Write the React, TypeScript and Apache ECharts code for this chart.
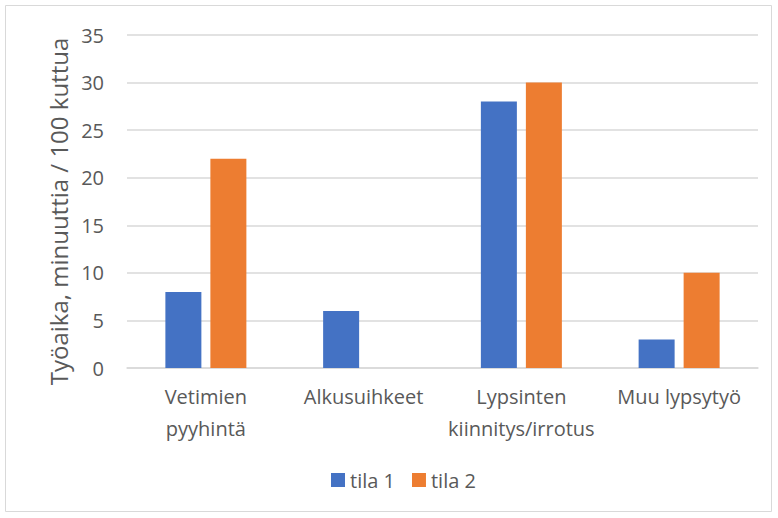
import React, { useEffect, useRef } from "react";
import * as echarts from "echarts";

const categories = ["Vetimien\npyyhintä", "Alkusuihkeet", "Lypsinten\nkiinnitys/irrotus", "Muu lypsytyö"];
const tila1 = [8, 6, 28, 3];
const tila2 = [22, 0, 30, 10];
const seriesNames = ["tila 1", "tila 2"];
const yAxisTitle = "Työaika, minuuttia / 100 kuttua";

const FONT = "'Open Sans', 'Liberation Sans', sans-serif";
const TXT = "#595959";

export default function App() {
  const ref = useRef<HTMLDivElement>(null);
  useEffect(() => {
    const chart = echarts.init(ref.current!, null, { renderer: "svg" });
    chart.setOption({
      animation: false,
      backgroundColor: "#ffffff",
      textStyle: { fontFamily: FONT },
      graphic: [
        {
          type: "rect",
          shape: { x: 5.5, y: 5.5, width: 766, height: 506 },
          style: { fill: "none", stroke: "#D9D9D9", lineWidth: 1 },
          silent: true,
        },
      ],
      grid: { left: 127, right: 20, top: 35, bottom: 150, containLabel: false },
      legend: {
        data: seriesNames,
        bottom: 23,
        left: 326,
        itemWidth: 14,
        itemHeight: 14,
        itemGap: 17,
        icon: "rect",
        textStyle: { color: TXT, fontSize: 20, fontFamily: FONT },
      },
      xAxis: {
        type: "category",
        data: categories,
        axisTick: { show: false },
        axisLine: { lineStyle: { color: "#D9D9D9", width: 1.5 } },
        axisLabel: {
          color: TXT,
          fontSize: 20,
          fontFamily: FONT,
          lineHeight: 32,
          margin: 12,
          interval: 0,
        },
      },
      yAxis: {
        type: "value",
        min: 0,
        max: 35,
        interval: 5,
        name: yAxisTitle,
        nameLocation: "middle",
        nameGap: 56,
        nameTextStyle: { color: TXT, fontSize: 24, fontFamily: FONT, padding: [0, 20, 0, 0] },
        axisLine: { show: false },
        axisTick: { show: false },
        splitLine: { lineStyle: { color: "#D9D9D9", width: 1.5 } },
        axisLabel: { color: TXT, fontSize: 20, fontFamily: FONT, margin: 23 },
      },
      series: [
        {
          name: seriesNames[0],
          type: "bar",
          data: tila1,
          barWidth: 36,
          barGap: "25%",
          itemStyle: { color: "#4472C4" },
        },
        {
          name: seriesNames[1],
          type: "bar",
          data: tila2,
          barWidth: 36,
          itemStyle: { color: "#ED7D31" },
        },
      ],
    });
    return () => chart.dispose();
  }, []);
  return (
    <div
      ref={ref}
      style={{ position: "absolute", left: 0, top: 0, width: 778, height: 518 }}
    />
  );
}
